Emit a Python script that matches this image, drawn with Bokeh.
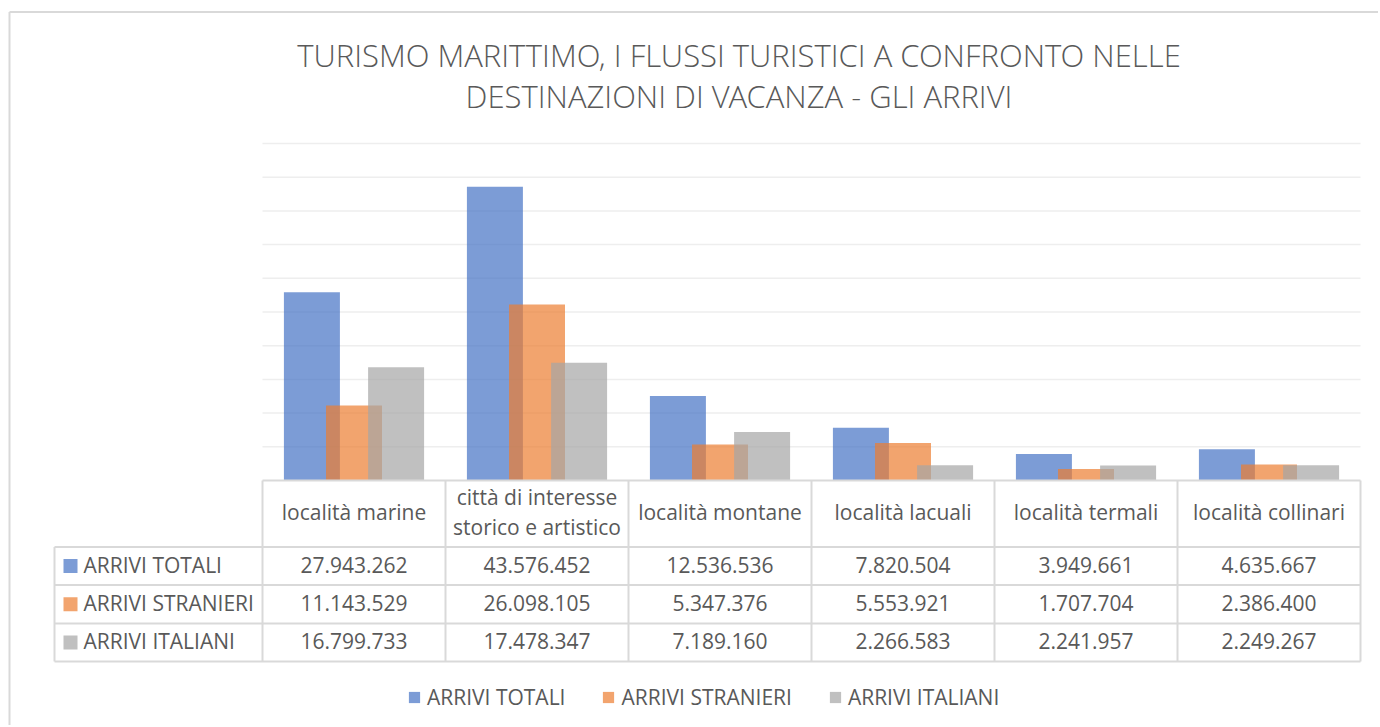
from bokeh.plotting import figure
from bokeh.models import Range1d, Legend, LegendItem, Label
from bokeh.embed import file_html
from bokeh.resources import INLINE
from bokeh.core.properties import value

# ---------------- data ----------------
categories = ["località marine", "città di interesse\nstorico e artistico", "località montane",
              "località lacuali", "località termali", "località collinari"]
series = ["ARRIVI TOTALI", "ARRIVI STRANIERI", "ARRIVI ITALIANI"]
arrivi_totali = [27943262, 43576452, 12536536, 7820504, 3949661, 4635667]
arrivi_stranieri = [11143529, 26098105, 5347376, 5553921, 1707704, 2386400]
arrivi_italiani = [16799733, 17478347, 7189160, 2266583, 2241957, 2249267]
grid_ticks = [5000000, 10000000, 15000000, 20000000, 25000000,
              30000000, 35000000, 40000000, 45000000, 50000000]
title_lines = ["TURISMO MARITTIMO, I FLUSSI TURISTICI A CONFRONTO NELLE",
               "DESTINAZIONI DI VACANZA - GLI ARRIVI"]

values_list = [arrivi_totali, arrivi_stranieri, arrivi_italiani]
colors = ["#4472C4", "#ED7D31", "#A5A5A5"]
ALPHA = 0.7
FONT_NAME = "Open Sans"
FONT = value(FONT_NAME)
TXT = "#595959"
GRIDC = "#D9D9D9"

# ---------------- layout helpers (page pixel -> data) ----------------
W, H = 1378, 725
OFF = 0  # canvas origin on page
PLOT_L, PLOT_R = 262, 1360
BASE_Y, TOP_Y = 480, 143
Y_MAX = 50000000
CAT_W = (PLOT_R - PLOT_L) / len(categories)
YS = (BASE_Y - TOP_Y) / Y_MAX


def dx(px):
    return (px - PLOT_L) / CAT_W


def dy(py):
    return (BASE_Y - py) / YS


p = figure(width=W, height=H,
           x_range=Range1d(dx(OFF), dx(OFF + W)), y_range=Range1d(dy(OFF + H), dy(OFF)),
           output_backend="svg", toolbar_location=None, min_border=0,
           x_axis_location=None, y_axis_location=None, outline_line_color=None)
p.grid.visible = False
p.background_fill_color = "white"
p.border_fill_color = "white"

n = len(categories)
centers = [i + 0.5 for i in range(n)]

# chart outer border
p.segment(x0=[dx(9), dx(9)], y0=[dy(11.5), dy(11.5)], x1=[dx(9), dx(1380)], y1=[dy(727), dy(11.5)],
          line_color=GRIDC, line_width=2)

# gridlines
p.segment(x0=[0] * len(grid_ticks), x1=[n] * len(grid_ticks), y0=grid_ticks, y1=grid_ticks,
          line_color="#EEEEEE", line_width=1.5)

# bars
offsets = [-0.23, 0.0, 0.23]
bar_w = 0.306
renderers = []
for vals, col, off in zip(values_list, colors, offsets):
    r = p.vbar(x=[c + off for c in centers], top=vals, bottom=0, width=bar_w,
               fill_color=col, fill_alpha=ALPHA, line_color=None)
    renderers.append(r)

# ---------------- data table ----------------
row_tops = [546.5, 584.5, 623, 661]
tab_left = 54
hx0 = [0] + [dx(tab_left)] * len(row_tops)
hx1 = [n] * (len(row_tops) + 1)
hy = [0] + [dy(y) for y in row_tops]
p.segment(x0=hx0, x1=hx1, y0=hy, y1=hy, line_color=GRIDC, line_width=2)
vx = list(range(n + 1)) + [dx(tab_left)]
vy0 = [0] * (n + 1) + [dy(row_tops[0])]
vy1 = [dy(row_tops[-1])] * (n + 2)
p.segment(x0=vx, x1=vx, y0=vy0, y1=vy1, line_color=GRIDC, line_width=2)

# header texts (category names)
hx, hyv, ht = [], [], []
for c, cat in zip(centers, categories):
    lines = cat.split("\n")
    k = len(lines)
    for j, ln in enumerate(lines):
        hx.append(c)
        hyv.append(dy(511 + (j - (k - 1) / 2) * 30))
        ht.append(ln)
p.text(x=hx, y=hyv, text=ht, text_font=FONT, text_font_size="21px", text_color=TXT,
       text_align="center", text_baseline="alphabetic")

# rows
row_centers = [(row_tops[i] + row_tops[i + 1]) / 2 for i in range(3)]
for rc, name, vals, col in zip(row_centers, series, values_list, colors):
    p.rect(x=[dx(70)], y=[dy(rc)], width=14, height=14, width_units="screen", height_units="screen",
           fill_color=col, fill_alpha=ALPHA, line_color=None)
    p.text(x=[dx(83)], y=[dy(rc - 1.5)], text=[name], text_font=FONT, text_font_size="21px",
           text_color=TXT, text_align="left", text_baseline="alphabetic")
    labels = [f"{v:,}".replace(",", ".") for v in vals]
    p.text(x=centers, y=[dy(rc - 1.5)] * n, text=labels, text_font=FONT, text_font_size="21px",
           text_color=TXT, text_align="center", text_baseline="alphabetic")

# ---------------- title ----------------
for ln, base in zip(title_lines, [54.0, 95.0]):
    p.add_layout(Label(x=dx(738.5), y=dy(base), text=ln, text_font="Open Sans Light",
                       text_font_size="31px", text_color="#595959", text_align="center",
                       text_baseline="alphabetic"))

# ---------------- legend ----------------
legend = Legend(items=[LegendItem(label=s, renderers=[r]) for s, r in zip(series, renderers)],
                orientation="horizontal", location=(407, 14),
                glyph_width=14, glyph_height=14, label_standoff=6, spacing=36,
                padding=0, margin=0, border_line_color=None, background_fill_alpha=0,
                label_text_font=FONT_NAME, label_text_font_size="21px", label_text_color=TXT)
p.add_layout(legend)

open("out.html", "w").write(file_html(p, INLINE))
